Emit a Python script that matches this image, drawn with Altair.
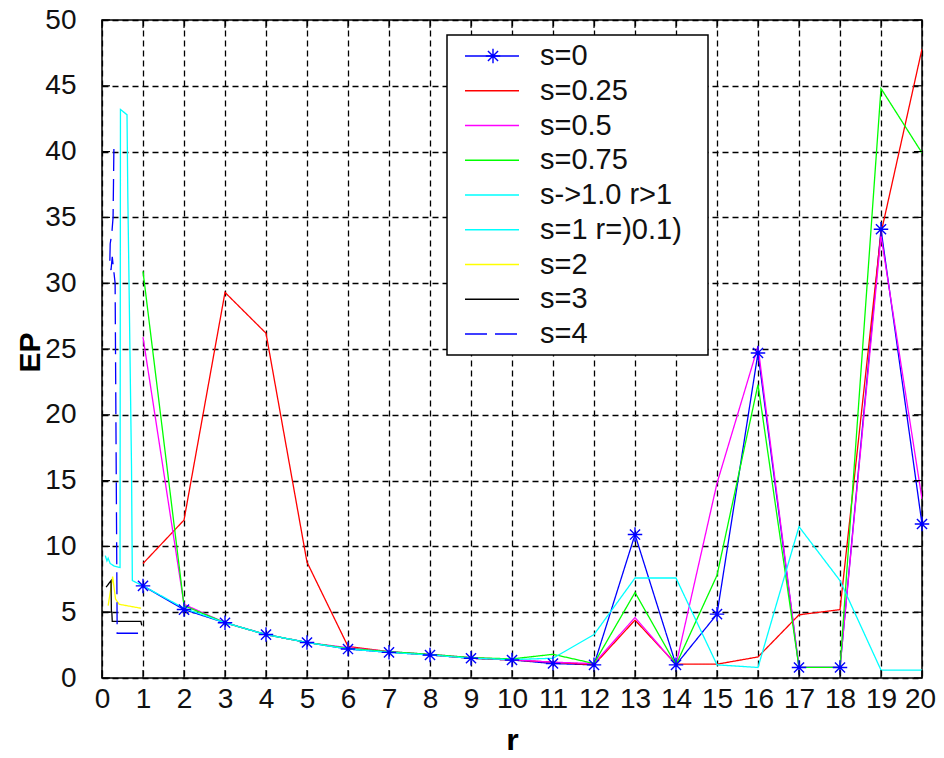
import altair as alt
import pandas as pd

# ---------------- data ----------------
series_names = ["s=0", "s=0.25", "s=0.5", "s=0.75", "s->1.0 r>1",
                "s=1 r=)0.1)", "s=2", "s=3", "s=4"]
series_colors = ["#0000ff", "#ff0000", "#ff00ff", "#00ff00", "#00ffff",
                 "#00ffff", "#ffff00", "#000000", "#0000ff"]

r_int = list(range(1, 21))
ep_s0 = [7.0, 5.2, 4.2, 3.3, 2.7, 2.2, 1.95, 1.75, 1.5, 1.37, 1.1, 1.0,
         10.9, 1.0, 4.85, 24.7, 0.8, 0.8, 34.1, 11.7]
ep_s025 = [8.7, 12.0, 29.3, 26.2, 8.8, 2.4, 2.0, 1.75, 1.5, 1.37, 1.2, 1.0,
           4.4, 1.05, 1.05, 1.6, 4.8, 5.2, 33.8, 47.8]
ep_s05 = [25.9, 5.6, 4.2, 3.3, 2.7, 2.3, 2.0, 1.8, 1.55, 1.4, 1.2, 1.1,
          4.6, 1.0, 14.8, 25.2, 0.8, 0.8, 33.6, 13.6]
ep_s075 = [30.9, 5.5, 4.2, 3.3, 2.7, 2.25, 2.0, 1.8, 1.55, 1.45, 1.8, 1.1,
           6.5, 1.0, 7.8, 22.3, 0.8, 0.8, 44.8, 39.9]
ep_s1_big = [7.0, 5.3, 4.2, 3.3, 2.7, 2.2, 1.95, 1.75, 1.5, 1.4, 1.5, 3.3,
             7.6, 7.6, 1.0, 0.8, 11.5, 7.4, 0.6, 0.6]

r_s1_small = [0.08, 0.12, 0.15, 0.2, 0.3, 0.44, 0.45, 0.61, 0.63, 0.655, 0.72, 0.74, 1.0]
ep_s1_small = [9.3, 8.9, 9.1, 8.7, 8.5, 8.4, 43.2, 42.8, 36.5, 31.0, 16.0, 7.4, 7.0]

r_s2 = [0.15, 0.26, 0.33, 0.42, 0.95]
ep_s2 = [5.5, 7.7, 6.0, 5.6, 5.3]

r_s3 = [0.1, 0.22, 0.23, 0.02, 0.24, 0.25, 0.95, 0.97]
ep_s3 = [6.9, 7.4, 5.0, 5.0, 5.0, 4.3, 4.3, 4.0]

r_s4 = [0.29, 0.28, 0.27, 0.24, 0.2, 0.19, 0.22, 0.25, 0.32, 0.37, 1.0]
ep_s4 = [40.2, 37.5, 35.0, 33.8, 33.0, 31.5, 31.0, 32.0, 30.0, 3.4, 3.4]

x_ticks = list(range(0, 21))
y_ticks = list(range(0, 51, 5))

# ---------------- tables ----------------
rows = []
def add(name, rs, eps):
    for i, (r, e) in enumerate(zip(rs, eps)):
        rows.append({"series": name, "r": r, "ep": e, "ord": i})

add("s=0", r_int, ep_s0)
add("s=0.25", r_int, ep_s025)
add("s=0.5", r_int, ep_s05)
add("s=0.75", r_int, ep_s075)
add("s->1.0 r>1", r_int, ep_s1_big)
add("s=1 r=)0.1)", r_s1_small, ep_s1_small)
add("s=2", r_s2, ep_s2)
add("s=3", r_s3, ep_s3)
add("s=4", r_s4, ep_s4)
df = pd.DataFrame(rows)

star_df = pd.DataFrame({"r": r_int, "ep": ep_s0})
xt_df = pd.DataFrame({"r": x_ticks})
yt_df = pd.DataFrame({"ep": y_ticks})
leg_df = pd.DataFrame({"series": series_names, "i": list(range(len(series_names)))})

FONT = "Liberation Sans"
W, H = 820, 658
STAR = "M-1,0L1,0M0,-1L0,1M-0.7,-0.7L0.7,0.7M-0.7,0.7L0.7,-0.7"

color_scale = alt.Scale(domain=series_names, range=series_colors)
dash_scale = alt.Scale(domain=series_names,
                       range=[[1, 0]] * 8 + [[22, 8]])

x_enc = alt.X("r:Q", scale=alt.Scale(domain=[0, 20], nice=False, zero=False),
              axis=alt.Axis(values=x_ticks, title="r", labelOverlap=False,
                            labelFlush=False, labelPadding=7,
                            labelOffset=alt.condition("datum.value == 20",
                                                      alt.value(-2), alt.value(0)),
                            titleY=72, titleBaseline="alphabetic",
                            titleFontSize=32))
y_enc = alt.Y("ep:Q", scale=alt.Scale(domain=[0, 50], nice=False),
              axis=alt.Axis(values=y_ticks, title="EP", labelPadding=26,
                            titleAngle=270, titleX=-72, titleY=332,
                            titleAlign="center", titleBaseline="middle"))

lines = alt.Chart(df).mark_line(strokeWidth=1.3, clip=True).encode(
    x=x_enc, y=y_enc,
    color=alt.Color("series:N", scale=color_scale, legend=None),
    strokeDash=alt.StrokeDash("series:N", scale=dash_scale, legend=None),
    detail="series:N",
    order="ord:Q",
)

stars = alt.Chart(star_df).mark_point(shape=STAR, size=210, filled=False,
                                       stroke="#0000ff", strokeWidth=1.4,
                                       opacity=1).encode(x="r:Q", y="ep:Q")

tick_b = alt.Chart(xt_df).mark_rule(color="black", strokeWidth=1.2).encode(
    x="r:Q", y=alt.value(H), y2=alt.value(H - 8))
tick_t = alt.Chart(xt_df).mark_rule(color="black", strokeWidth=1.2).encode(
    x="r:Q", y=alt.value(0), y2=alt.value(8))
tick_l = alt.Chart(yt_df).mark_rule(color="black", strokeWidth=1.2).encode(
    y="ep:Q", x=alt.value(0), x2=alt.value(8))
tick_r = alt.Chart(yt_df).mark_rule(color="black", strokeWidth=1.2).encode(
    y="ep:Q", x=alt.value(W), x2=alt.value(W - 8))

box = alt.Chart(pd.DataFrame({"a": [0]})).mark_rect(
    fill="white", stroke="black", strokeWidth=1.5).encode(
    x=alt.value(345), x2=alt.value(606), y=alt.value(15), y2=alt.value(335))

leg_base = alt.Chart(leg_df).transform_calculate(ly="36 + datum.i * 34.75")
leg_lines = leg_base.mark_rule(strokeWidth=1.5).encode(
    x=alt.value(363), x2=alt.value(417),
    y=alt.Y("ly:Q", scale=None),
    color=alt.Color("series:N", scale=color_scale, legend=None),
    strokeDash=alt.StrokeDash("series:N", scale=dash_scale, legend=None),
)
leg_text = leg_base.mark_text(align="left", baseline="middle", font=FONT,
                              fontSize=29, color="#111111").encode(
    x=alt.value(438), y=alt.Y("ly:Q", scale=None), text="series:N")
leg_star = leg_base.transform_filter("datum.i == 0").mark_point(
    shape=STAR, size=210, filled=False, stroke="#0000ff", strokeWidth=1.4,
    opacity=1).encode(x=alt.value(391), y=alt.Y("ly:Q", scale=None))

chart = alt.layer(lines, stars, tick_b, tick_t, tick_l, tick_r,
                  box, leg_lines, leg_star, leg_text).properties(
    width=W, height=H,
    padding={"left": 94, "top": 12, "right": 14, "bottom": 72},
    autosize=alt.AutoSizeParams(type="none"),
    background="white",
).configure_view(stroke="black", strokeWidth=1.5).configure_axis(
    labelFont=FONT, labelFontSize=28, labelColor="#111111",
    titleFont=FONT, titleFontSize=30, titleFontWeight="bold",
    titleColor="#000000", ticks=False, domain=False,
    grid=True, gridColor="black", gridDash=[6, 4], gridWidth=1.3,
    gridOpacity=1,
)

chart.save("out.html", embed_options={"renderer": "svg", "actions": False})
